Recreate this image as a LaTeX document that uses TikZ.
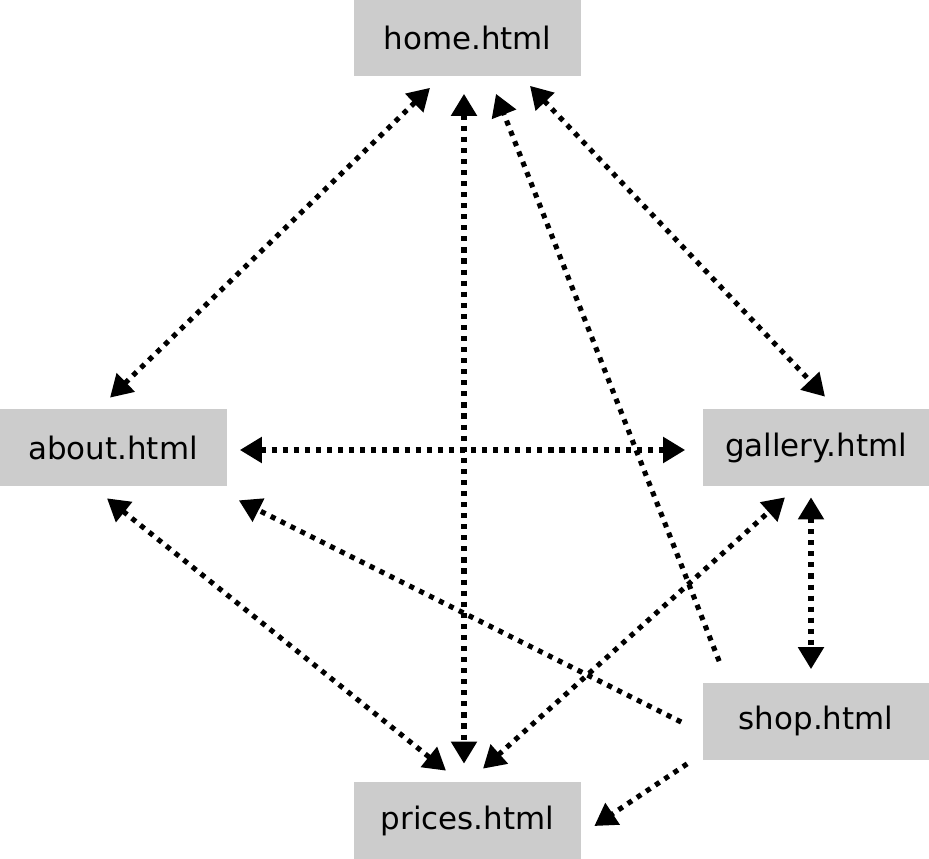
\documentclass[tikz,border=0pt]{standalone}
\usepackage{fontspec}
\setmainfont{DejaVu Sans}
\usepackage{tikz}
\usetikzlibrary{arrows.meta}

\begin{document}
\begin{tikzpicture}[>={Triangle[length=4.4mm,width=5mm]},
  pagebox/.style={fill=black!20,minimum width=4.54cm,minimum height=1.54cm,inner sep=0pt,font=\fontsize{17.6}{21}\selectfont},
  link/.style={line width=2.9pt,dash pattern=on 2.9pt off 3.4pt}]
\useasboundingbox (0,0) rectangle (18.58,-17.18);
\node[pagebox] (home) at (9.35,-0.76) {home.html};
\node[pagebox] (about) at (2.26,-8.95) {about.html};
\node[pagebox] (gallery) at (16.32,-8.95) {gallery.html};
\node[pagebox] (shop) at (16.32,-14.42) {shop.html};
\node[pagebox] (prices) at (9.35,-16.41) {prices.html};
\draw[link,<->] ([shift={(-0.06,0.22)}]about.north)--([shift={(-0.75,-0.22)}]home.south);
\draw[link,<->] ([shift={(-0.07,-0.34)}]home.south)--([shift={(-0.07,0.36)}]prices.north);
\draw[link,->] ([shift={(0.34,0.42)}]shop.north west)--([shift={(0.57,-0.34)}]home.south);
\draw[link,<->] ([shift={(1.25,-0.18)}]home.south)--([shift={(0.18,0.24)}]gallery.north);
\draw[link,<->] ([shift={(0.26,-0.05)}]about.east)--([shift={(-0.34,-0.05)}]gallery.west);
\draw[link,<->] ([shift={(-0.12,-0.24)}]about.south)--([shift={(-0.43,0.22)}]prices.north);
\draw[link,->] ([shift={(-0.42,-0.02)}]shop.west)--([shift={(0.24,-0.28)}]about.south east);
\draw[link,<->] ([shift={(0.31,0.26)}]prices.north)--([shift={(-0.62,-0.22)}]gallery.south);
\draw[link,<->] ([shift={(-0.1,-0.22)}]gallery.south)--([shift={(-0.1,0.26)}]shop.north);
\draw[link,->] ([shift={(-0.3,-0.08)}]shop.south west)--([shift={(0.26,-0.11)}]prices.east);
\end{tikzpicture}
\end{document}
